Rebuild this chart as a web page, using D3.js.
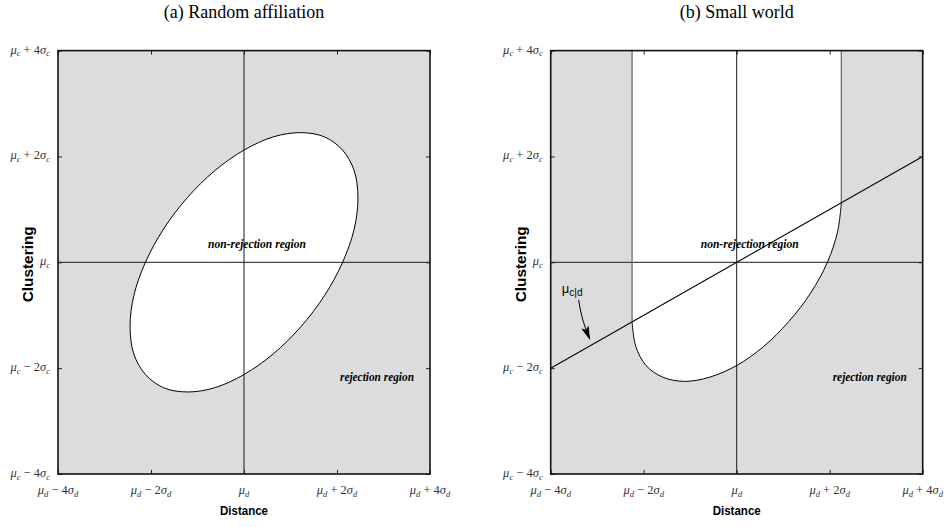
<!DOCTYPE html>
<html>
<head>
<meta charset="utf-8">
<script src="https://cdn.jsdelivr.net/npm/d3@7"></script>
<style>
  body { margin: 0; background: #fff; }
  svg { display: block; }
</style>
</head>
<body>
<div id="chart"></div>
<script>
// Axis ticks, in units of sigma away from the mean
var ticks = [-4, -2, 0, 2, 4];
var panelTitles = ["(a) Random affiliation", "(b) Small world"];
var xTitle = "Distance";
var yTitle = "Clustering";
var insideLabel = "non-rejection region";
var outsideLabel = "rejection region";

// (a) boundary of the non-rejection ellipse, [distance, clustering] in sigmas
var ellipseA = [
  [2.12, 2.12], [2.37, 1.73], [2.45, 1.22], [2.37, 0.63], [2.12, 0],
  [1.73, -0.63], [1.22, -1.22], [0.63, -1.73], [0, -2.12], [-0.63, -2.37],
  [-1.22, -2.45], [-1.73, -2.37], [-2.12, -2.12], [-2.37, -1.73], [-2.45, -1.22],
  [-2.37, -0.63], [-2.12, 0], [-1.73, 0.63], [-1.22, 1.22], [-0.63, 1.73],
  [0, 2.12], [0.63, 2.37], [1.22, 2.45], [1.73, 2.37]
];

// (b) lower boundary of the non-rejection band (open at the top)
var bandB = [
  [-2.25, 4], [-2.25, -1.12], [-2.17, -1.59], [-1.95, -1.95], [-1.59, -2.17],
  [-1.12, -2.25], [-0.58, -2.17], [0, -1.95], [0.58, -1.59], [1.12, -1.12],
  [1.59, -0.58], [1.95, 0], [2.17, 0.58], [2.25, 1.12], [2.25, 4]
];

// (b) conditional mean line mu_c|d and its pointer
var regressionB = [[-4, -2], [4, 2]];
var arrowB = [[-3.40, -0.71], [-3.31, -1.09], [-3.16, -1.45]];
var arrowLabelPos = [-3.76, -0.58];
var labelInside = [0.28, 0.27];
var labelOutside = [2.86, -2.24];

var width = 946, height = 527;
var grey = "#dcdcdd";
var serif = "'Liberation Serif', 'Times New Roman', serif";
var sans = "'Liberation Sans', Arial, sans-serif";

var svg = d3.select("#chart").append("svg")
  .attr("width", width)
  .attr("height", height);

var defs = svg.append("defs");
defs.append("marker")
  .attr("id", "head")
  .attr("viewBox", "0 0 14 8")
  .attr("refX", 13)
  .attr("refY", 4)
  .attr("markerUnits", "userSpaceOnUse")
  .attr("markerWidth", 14)
  .attr("markerHeight", 8)
  .attr("orient", "auto")
  .append("path")
  .attr("d", "M0,0 L14,4 L0,8 L3,4 Z")
  .attr("fill", "#000");

var panels = [
  { left: 58, right: 430, id: "a" },
  { left: 550.7, right: 922.7, id: "b" }
];
var plotTop = 50.6, plotBottom = 474;

// write mu_s +/- k sigma_s as tspans
function mathLabel(text, v, sub) {
  text.append("tspan").attr("font-style", "italic").text("μ");
  text.append("tspan").attr("font-style", "italic").attr("font-size", "8.5px")
    .attr("dy", 2.5).text(sub);
  if (v !== 0) {
    text.append("tspan").attr("dy", -2.5).text((v > 0 ? " + " : " − ") + Math.abs(v));
    text.append("tspan").attr("font-style", "italic").text("σ");
    text.append("tspan").attr("font-style", "italic").attr("font-size", "8.5px")
      .attr("dy", 2.5).text(sub);
  }
}

panels.forEach(function(p, i) {
  var x = d3.scaleLinear().domain([-4, 4]).range([p.left, p.right]);
  var y = d3.scaleLinear().domain([-4, 4]).range([plotBottom, plotTop]);
  var g = svg.append("g").attr("id", "panel-" + p.id);
  var cx = x(0);
  var straight = d3.line().x(function(d) { return x(d[0]); }).y(function(d) { return y(d[1]); });
  var curved = d3.line().x(function(d) { return x(d[0]); }).y(function(d) { return y(d[1]); })
    .curve(d3.curveCatmullRom);
  var closed = d3.line().x(function(d) { return x(d[0]); }).y(function(d) { return y(d[1]); })
    .curve(d3.curveCatmullRomClosed);

  // title
  g.append("text")
    .attr("x", cx).attr("y", 18)
    .attr("text-anchor", "middle")
    .attr("font-family", serif)
    .attr("font-size", "18px")
    .text(panelTitles[i]);

  // rejection background
  g.append("rect")
    .attr("x", p.left).attr("y", plotTop)
    .attr("width", p.right - p.left).attr("height", plotBottom - plotTop)
    .attr("fill", grey);

  if (p.id === "a") {
    g.append("path")
      .attr("d", closed(ellipseA))
      .attr("fill", "#fff");
  } else {
    var curve = curved(bandB.slice(1, -1));
    var first = bandB[0], last = bandB[bandB.length - 1];
    g.append("path")
      .attr("d", "M" + x(first[0]) + "," + y(first[1]) + "L" + curve.slice(1) +
        "L" + x(last[0]) + "," + y(last[1]) + "Z")
      .attr("fill", "#fff");
  }

  // centre cross at the means
  g.append("line")
    .attr("x1", cx).attr("x2", cx).attr("y1", plotTop).attr("y2", plotBottom)
    .attr("stroke", "#1a1a1a").attr("stroke-width", 1);
  g.append("line")
    .attr("x1", p.left).attr("x2", p.right).attr("y1", y(0)).attr("y2", y(0))
    .attr("stroke", "#1a1a1a").attr("stroke-width", 1);

  // boundary outline
  if (p.id === "a") {
    g.append("path")
      .attr("d", closed(ellipseA))
      .attr("fill", "none").attr("stroke", "#000").attr("stroke-width", 1);
  } else {
    [bandB.slice(0, 2), bandB.slice(-2)].forEach(function(s) {
      g.append("path")
        .attr("d", straight(s))
        .attr("fill", "none").attr("stroke", "#6e6e6e").attr("stroke-width", 1.3);
    });
    g.append("path")
      .attr("d", curved(bandB.slice(1, -1)))
      .attr("fill", "none").attr("stroke", "#000").attr("stroke-width", 1);

    // regression line
    g.append("path")
      .attr("d", straight(regressionB))
      .attr("fill", "none").attr("stroke", "#000").attr("stroke-width", 1.1);

    g.append("path")
      .attr("d", straight.curve(d3.curveNatural)(arrowB))
      .attr("fill", "none").attr("stroke", "#000").attr("stroke-width", 1)
      .attr("marker-end", "url(#head)");

    var lab = g.append("text")
      .attr("x", x(arrowLabelPos[0])).attr("y", y(arrowLabelPos[1]))
      .attr("font-family", sans).attr("font-size", "13px");
    lab.append("tspan").text("μ");
    lab.append("tspan").attr("font-size", "10px").attr("dy", 3).text("c|d");
  }

  // region labels
  g.append("text")
    .attr("x", x(labelInside[0])).attr("y", y(labelInside[1]))
    .attr("text-anchor", "middle")
    .attr("font-family", serif).attr("font-style", "italic").attr("font-weight", "bold")
    .attr("font-size", "13px")
    .attr("textLength", 98).attr("lengthAdjust", "spacingAndGlyphs")
    .text(insideLabel);
  g.append("text")
    .attr("x", x(labelOutside[0])).attr("y", y(labelOutside[1]))
    .attr("text-anchor", "middle")
    .attr("font-family", serif).attr("font-style", "italic").attr("font-weight", "bold")
    .attr("font-size", "13px")
    .attr("textLength", 74).attr("lengthAdjust", "spacingAndGlyphs")
    .text(outsideLabel);

  // inward ticks on all four sides
  var tickLen = 4;
  [
    [d3.axisBottom(x), 0, plotBottom],
    [d3.axisTop(x), 0, plotTop],
    [d3.axisLeft(y), p.left, 0],
    [d3.axisRight(y), p.right, 0]
  ].forEach(function(a) {
    var ax = g.append("g")
      .attr("transform", "translate(" + a[1] + "," + a[2] + ")")
      .call(a[0].tickValues(ticks).tickSize(-tickLen).tickFormat(""));
    ax.select(".domain").remove();
    ax.selectAll(".tick line").attr("stroke", "#222").attr("stroke-width", 1);
  });

  // frame
  g.append("rect")
    .attr("x", p.left).attr("y", plotTop)
    .attr("width", p.right - p.left).attr("height", plotBottom - plotTop)
    .attr("fill", "none").attr("stroke", "#111").attr("stroke-width", 1.6);

  // tick labels
  ticks.forEach(function(v) {
    var t = g.append("text")
      .attr("x", x(v)).attr("y", 494)
      .attr("text-anchor", "middle")
      .attr("font-family", serif).attr("font-size", "12.5px").attr("fill", "#333");
    mathLabel(t, v, "d");
    var u = g.append("text")
      .attr("x", p.left - 8).attr("y", y(v) + 3)
      .attr("text-anchor", "end")
      .attr("font-family", serif).attr("font-size", "12.5px").attr("fill", "#333");
    mathLabel(u, v, "c");
  });

  // axis titles
  g.append("text")
    .attr("x", cx).attr("y", 515)
    .attr("text-anchor", "middle")
    .attr("font-family", sans).attr("font-weight", "bold").attr("font-size", "13.5px")
    .attr("textLength", 48).attr("lengthAdjust", "spacingAndGlyphs")
    .text(xTitle);
  g.append("text")
    .attr("transform", "translate(" + (p.left - 25) + "," + (y(0) + 2) + ") rotate(-90)")
    .attr("text-anchor", "middle")
    .attr("font-family", sans).attr("font-weight", "bold").attr("font-size", "14px")
    .attr("textLength", 76).attr("lengthAdjust", "spacingAndGlyphs")
    .text(yTitle);
});
</script>
</body>
</html>
